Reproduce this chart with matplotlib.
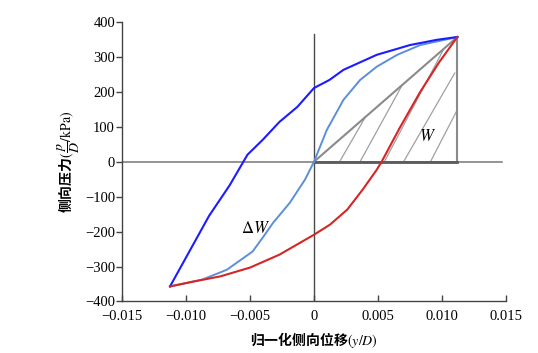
import numpy as np
import matplotlib.pyplot as plt

plt.rcParams['font.family'] = ['Liberation Serif', 'Noto Sans CJK SC', 'DejaVu Sans']
plt.rcParams['mathtext.fontset'] = 'stix'
plt.rcParams['axes.unicode_minus'] = True

# outer loop (dark blue)
blue_x = [-0.01125, -0.0082, -0.0066, -0.0052, -0.0040, -0.0027, -0.0013, 0.0, 0.0012, 0.0023, 0.0049, 0.0075, 0.0096, 0.0112]
blue_y = [-357, -155, -68, 20, 63, 114, 157, 211, 234, 263, 306, 334, 349, 357]

# backbone through origin (light blue)
lblue_x = [-0.01125, -0.0087, -0.0068, -0.0048, -0.0040, -0.0032, -0.0019, -0.0007, 0.0, 0.0010, 0.0023, 0.0036, 0.0049, 0.0065, 0.0083, 0.0112]
lblue_y = [-357, -337, -309, -257, -217, -175, -118, -51, 0, 91, 177, 234, 272, 306, 334, 357]

# lower branch (red)
red_x = [-0.01125, -0.0094, -0.0073, -0.0050, -0.0027, 0.0, 0.00125, 0.0026, 0.0038, 0.0049, 0.0053, 0.0067, 0.0083, 0.0098, 0.0112]
red_y = [-357, -343, -328, -303, -266, -209, -180, -137, -80, -23, 1, 97, 200, 286, 357]

# peak point and hatch segments of the W triangle
peak_x, peak_y = 0.0112, 357
hatch_x0 = [0.0020, 0.0036, 0.0055, 0.0070, 0.0091]
hatch_x1 = [0.0040, 0.0069, 0.0101, 0.0110, 0.0112]
hatch_y1 = [127, 220, 320, 254, 149]

xticks = [-0.015, -0.010, -0.005, 0, 0.005, 0.010, 0.015]
xticklabels = ['\u22120.015', '\u22120.010', '\u22120.005', '0', '0.005', '0.010', '0.015']
yticks = [400, 300, 200, 100, 0, -100, -200, -300, -400]

fig = plt.figure(figsize=(5.38, 3.53), dpi=100)
ax = fig.add_axes([0.2268, 0.146, 0.7137, 0.7917])

# reference lines
ax.plot([-0.015, 0.0147], [0, 0], color='#777777', lw=1.1, zorder=1)
ax.plot([0, 0], [-400, 365], color='#4a4a4a', lw=1.0, zorder=1)

# triangle W
for x0, x1, y1 in zip(hatch_x0, hatch_x1, hatch_y1):
    ax.plot([x0, x1], [0, y1], color='#a0a0a0', lw=0.9, zorder=2)
ax.plot([0, peak_x], [0, peak_y], color='#8a8a8a', lw=1.5, zorder=2)
ax.plot([peak_x, peak_x], [0, peak_y], color='#8a8a8a', lw=1.5, zorder=2)
ax.plot([0, peak_x], [0, 0], color='#5a5a5a', lw=2.0, zorder=2)

ax.plot(lblue_x, lblue_y, color='#5b8fda', lw=1.4, zorder=3)
ax.plot(blue_x, blue_y, color='#1c1cff', lw=1.5, zorder=4)
ax.plot(red_x, red_y, color='#d62525', lw=1.5, zorder=4)

ax.text(0.0089, 72, r'$W$', fontsize=12, ha='center', va='center')
ax.text(-0.0046, -194, r'$\Delta W$', fontsize=12, ha='center', va='center')

ax.set_xlim(-0.015, 0.015)
ax.set_ylim(-400, 400)
ax.set_xticks(xticks)
ax.set_xticklabels(xticklabels)
ax.set_yticks(yticks)
ax.set_yticklabels([str(v).replace('-', '\u2212') for v in yticks])

for s in ['top', 'right']:
    ax.spines[s].set_visible(False)
for s in ['left', 'bottom']:
    ax.spines[s].set_color('#444444')
    ax.spines[s].set_linewidth(1.0)
ax.tick_params(axis='y', direction='out', length=4, width=1, color='#444444', labelsize=10.5, pad=1)
ax.tick_params(axis='x', direction='in', length=4, width=1, color='#444444', labelsize=10.5, pad=6)

# CJK part is non-math text, so the text's own family must be the CJK font
cjk = ['Noto Sans CJK SC']
ax.set_xlabel(r'归一化侧向位移$(y/D)$', fontsize=10, family=cjk, fontweight='bold', labelpad=5)
ax.set_ylabel(r'侧向压力$(\dfrac{p}{D}/\mathrm{kPa})$', fontsize=10, family=cjk, fontweight='bold', labelpad=2)

fig.savefig('out.png', dpi=100)
